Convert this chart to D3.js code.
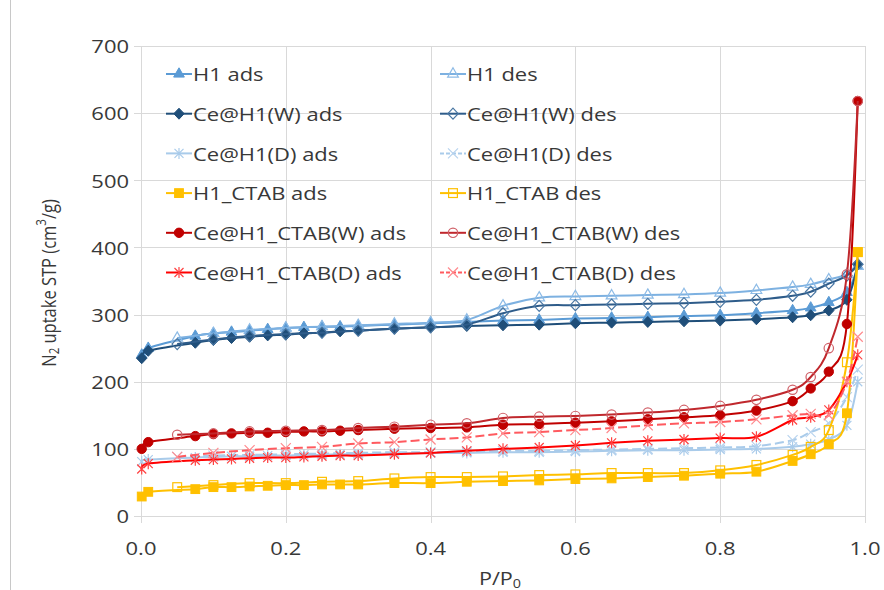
<!DOCTYPE html>
<html>
<head>
<meta charset="utf-8">
<script src="https://cdn.jsdelivr.net/npm/d3@7"></script>
<style>
body{margin:0;background:#fff;}
svg{display:block;}
text{font-family:"Open Sans",Lato,sans-serif;fill:#383838;}
</style>
</head>
<body>
<svg id="chart" width="884" height="590"></svg>
<script>
var svgWidth=884;
var svgHeight=590;
var textStretch=1.2;

// P/P0 points
var adsX=[0.001,0.01,0.075,0.1,0.125,0.15,0.175,0.2,0.225,0.25,0.275,0.3,0.35,0.4,0.45,0.5,0.55,0.6,0.65,0.7,0.75,0.8,0.85,0.9,0.925,0.95,0.975,0.99];
var desX=[0.05,0.1,0.15,0.2,0.25,0.3,0.35,0.4,0.45,0.5,0.55,0.6,0.65,0.7,0.75,0.8,0.85,0.9,0.925,0.95,0.975,0.99];

// adsorption branches
var h1Ads=[240,250,268,272,274,276,278,280,281,282,282,283,285,287,289,291,292,294,295,296,298,299,302,306,310,318,333,372];
var ceH1WAds=[235,246,258,262,265,267,269,270,272,273,275,276,279,281,283,284,285,287,288,289,290,291,293,296,299,306,322,375];
var ceH1DAds=[81,84,87,88,89,89,90,90,91,91,92,92,93,94,94,95,95,96,97,98,98,99,100,103,107,114,135,200];
var h1CtabAds=[29,36,40,43,43,44,45,46,46,47,47,47,49,49,51,52,53,55,56,58,60,63,66,82,92,107,153,393];
var ceCtabWAds=[100,110,119,122,123,124,124,125,126,126,127,128,130,131,132,136,137,139,141,144,147,150,157,171,190,215,286,618];
var ceCtabDAds=[70,78,83,84,85,86,87,87,88,89,90,90,92,94,97,100,102,105,109,112,114,116,118,143,147,158,200,240];

// desorption branches
var h1Des=[265,272,277,280,282,284,286,288,292,313,325,327,328,329,330,332,336,341,345,352,360,372];
var ceH1WDes=[256,263,268,271,273,276,279,281,285,302,313,314,315,316,317,319,322,328,334,346,358,375];
var ceH1DDes=[88,90,91,92,93,94,95,95,96,97,97,98,99,100,101,102,104,113,125,138,177,218];
var h1CtabDes=[43,46,49,49,51,52,56,58,58,59,61,62,64,64,64,68,76,91,103,128,229,393];
var ceCtabWDes=[121,123,126,127,128,131,133,136,138,146,148,149,151,154,158,164,173,188,207,250,360,618];
var ceCtabDDes=[88,94,98,101,103,108,110,114,117,123,125,128,131,135,138,140,144,150,152,150,200,267];

var xTicks=[0,0.2,0.4,0.6,0.8,1.0];
var yTicks=[0,100,200,300,400,500,600,700];

var seriesNames=["H1 ads","H1 des","Ce@H1(W) ads","Ce@H1(W) des","Ce@H1(D) ads","Ce@H1(D) des",
    "H1_CTAB ads","H1_CTAB des","Ce@H1_CTAB(W) ads","Ce@H1_CTAB(W) des","Ce@H1_CTAB(D) ads","Ce@H1_CTAB(D) des"];
var seriesY=[h1Ads,h1Des,ceH1WAds,ceH1WDes,ceH1DAds,ceH1DDes,h1CtabAds,h1CtabDes,ceCtabWAds,ceCtabWDes,ceCtabDAds,ceCtabDDes];
var seriesStyle=[
    {color:"#5B9BD5",mcolor:"#5B9BD5",marker:"triangle",fill:true,dash:null},
    {color:"#7DB1E1",mcolor:"#8DBBE6",marker:"triangle",fill:false,dash:null},
    {color:"#1F4E79",mcolor:"#1F4E79",marker:"diamond",fill:true,dash:null},
    {color:"#2E5C8A",mcolor:"#4A77A3",marker:"diamond",fill:false,dash:null},
    {color:"#A9CBEA",mcolor:"#A9CBEA",marker:"star",fill:false,dash:null},
    {color:"#A9CBEA",mcolor:"#B8D3EE",marker:"x",fill:false,dash:"9,4"},
    {color:"#FFC000",mcolor:"#FFC000",marker:"square",fill:true,dash:null},
    {color:"#FFC000",mcolor:"#FFC000",marker:"square",fill:false,dash:null},
    {color:"#C00000",mcolor:"#C00000",marker:"circle",fill:true,dash:null},
    {color:"#C0282D",mcolor:"#D06068",marker:"circle",fill:false,dash:null},
    {color:"#FF0000",mcolor:"#FF4040",marker:"star",fill:false,dash:null},
    {color:"#FF5A5F",mcolor:"#FF8A8E",marker:"x",fill:false,dash:"9,4"}
];

var svg=d3.select("#chart");

var xScale=d3.scaleLinear().domain([0,1]).range([141,865]);
var yScale=d3.scaleLinear().domain([0,700]).range([516,46]);

// outer frame line
svg.append("line")
    .attr("x1",10.5).attr("x2",10.5).attr("y1",0).attr("y2",svgHeight)
    .attr("stroke","#C8C8C8").attr("stroke-width",1);

//grid
svg.append("g")
    .selectAll("line")
    .data(yTicks)
    .enter()
    .append("line")
    .attr("x1",134).attr("x2",865)
    .attr("y1",function(d){return Math.round(yScale(d))+0.5;})
    .attr("y2",function(d){return Math.round(yScale(d))+0.5;})
    .attr("stroke","#D9D9D9").attr("stroke-width",1);

svg.append("g")
    .selectAll("line")
    .data(xTicks)
    .enter()
    .append("line")
    .attr("y1",46).attr("y2",523)
    .attr("x1",function(d){return Math.round(xScale(d))+0.5;})
    .attr("x2",function(d){return Math.round(xScale(d))+0.5;})
    .attr("stroke","#D9D9D9").attr("stroke-width",1);

// stretched text helper
function addText(parent,x,y,str,anchor,size){
    return parent.append("text")
        .attr("transform","translate("+x+","+y+") scale("+textStretch+",1)")
        .attr("text-anchor",anchor)
        .attr("dominant-baseline","central")
        .style("font-size",size+"px")
        .text(str);
}

//tick labels
yTicks.forEach(function(d){
    addText(svg,129,yScale(d),d3.format("d")(d),"end",18.3);
});
xTicks.forEach(function(d){
    addText(svg,xScale(d),548,d3.format(".1f")(d),"middle",18.3);
});

// axis titles
var yl=svg.append("text")
    .attr("transform","translate(48,283) rotate(-90) scale(1,1.2)")
    .attr("text-anchor","middle")
    .attr("dominant-baseline","central")
    .style("font-size","16.5px");
yl.append("tspan").text("N");
yl.append("tspan").attr("dy",5).style("font-size","11.5px").text("2");
yl.append("tspan").attr("dy",-5).text(" uptake STP (cm");
yl.append("tspan").attr("dy",-6).style("font-size","11.5px").text("3");
yl.append("tspan").attr("dy",6).text("/g)");

var xl=svg.append("text")
    .attr("transform","translate(500,578) scale("+textStretch+",1)")
    .attr("text-anchor","middle")
    .attr("dominant-baseline","central")
    .style("font-size","18px");
xl.append("tspan").text("P/P");
xl.append("tspan").attr("dy",5).style("font-size","12px").text("0");

// markers
function drawMarker(g,type,x,y,color,filled){
    var p;
    if(type=="triangle"){
        p=g.append("path").attr("d",d3.symbol().type(d3.symbolTriangle).size(50)());
    }else if(type=="diamond"){
        p=g.append("path").attr("d","M0,-5.5L5.2,0L0,5.5L-5.2,0Z");
    }else if(type=="circle"){
        p=g.append("circle").attr("r",4.7);
    }else if(type=="square"){
        p=g.append("rect").attr("x",-4.4).attr("y",-4.4).attr("width",8.8).attr("height",8.8);
    }else if(type=="star"){
        p=g.append("path").attr("d","M-4.5,-4.5L4.5,4.5M-4.5,4.5L4.5,-4.5M0,-5.5L0,5.5");
        filled=false;
    }else{
        p=g.append("path").attr("d","M-5,-5L5,5M-5,5L5,-5");
        filled=false;
    }
    p.attr("transform","translate("+x+","+y+")")
        .attr("fill",filled?color:"none")
        .attr("stroke",color)
        .attr("stroke-width",filled?1:1.2);
}

var line=d3.line()
    .x(function(d){return xScale(d[0]);})
    .y(function(d){return yScale(d[1]);})
    .curve(d3.curveCardinal.tension(0));

var plot=svg.append("g");
seriesY.forEach(function(vals,i){
    var xs=(i%2==0)?adsX:desX;
    var st=seriesStyle[i];
    var pts=vals.map(function(v,j){return [xs[j],v];});
    var g=plot.append("g");
    g.append("path")
        .datum(pts)
        .attr("d",line)
        .attr("fill","none")
        .attr("stroke",st.color)
        .attr("stroke-width",2)
        .attr("stroke-dasharray",st.dash);
    pts.forEach(function(p){
        drawMarker(g,st.marker,xScale(p[0]),yScale(p[1]),st.mcolor,st.fill);
    });
});

//legend
var legendCols=[166,440];
var legend=svg.append("g");
seriesNames.forEach(function(name,i){
    var col=i%2;
    var row=Math.floor(i/2);
    var lx=legendCols[col];
    var ly=74+row*39.7;
    var st=seriesStyle[i];
    legend.append("line")
        .attr("x1",lx).attr("x2",lx+26)
        .attr("y1",ly).attr("y2",ly)
        .attr("stroke",st.color).attr("stroke-width",2)
        .attr("stroke-dasharray",st.dash?"4,2":null);
    drawMarker(legend,st.marker,lx+13,ly,st.mcolor,st.fill);
    addText(legend,lx+27,ly,name,"start",18.3);
});
</script>
</body>
</html>
